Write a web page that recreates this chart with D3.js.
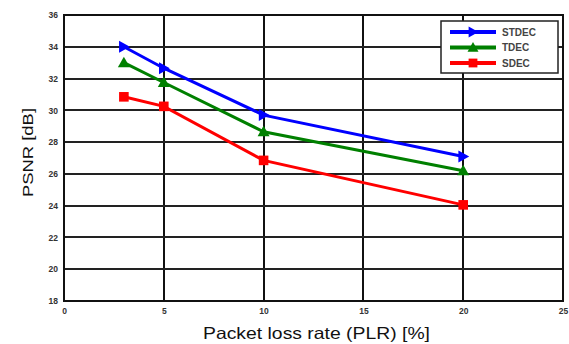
<!DOCTYPE html>
<html><head><meta charset="utf-8">
<script src="https://cdn.jsdelivr.net/npm/d3@7"></script>
<style>body{margin:0;background:#fff}svg{display:block}</style>
</head><body><svg id="c" width="569" height="344"></svg>
<script>
const plr = [3, 5, 10, 20];
const stdec = [34.0, 32.65, 29.7, 27.1];
const tdec = [33.0, 31.75, 28.65, 26.2];
const sdec = [30.85, 30.25, 26.85, 24.05];
const seriesNames = ["STDEC", "TDEC", "SDEC"];
const xTicks = [0, 5, 10, 15, 20, 25];
const yTicks = [18, 20, 22, 24, 26, 28, 30, 32, 34, 36];

const colors = ["#0000ff", "#008000", "#ff0000"];
const shapes = ["right", "up", "square"];
const series = [stdec, tdec, sdec];

const svg = d3.select("#c");
const L = 64, R = 563, T = 15, B = 301;
const x = d3.scaleLinear().domain([0, 25]).range([L, R]);
const y = d3.scaleLinear().domain([18, 36]).range([B, T]);

// grid
svg.append("g").selectAll("line").data(xTicks).join("line")
  .attr("x1", d => Math.round(x(d))).attr("x2", d => Math.round(x(d))).attr("y1", T).attr("y2", B)
  .attr("stroke", "#111").attr("stroke-width", 2);
svg.append("g").selectAll("line").data(yTicks).join("line")
  .attr("y1", d => Math.round(y(d))).attr("y2", d => Math.round(y(d))).attr("x1", L).attr("x2", R)
  .attr("stroke", "#222").attr("stroke-width", 2);

// axes
const xa = svg.append("g").attr("transform", `translate(0,${B})`)
  .call(d3.axisBottom(x).tickValues(xTicks).tickSize(0).tickPadding(7));
const ya = svg.append("g").attr("transform", `translate(${L},0)`)
  .call(d3.axisLeft(y).tickValues(yTicks).tickSize(0).tickPadding(6));
[xa, ya].forEach(a => {
  a.select(".domain").remove();
  a.selectAll("text").attr("font-family", "Arial, Liberation Sans, sans-serif")
    .attr("font-size", 8.5).attr("font-weight", "bold").attr("fill", "#333");
});
svg.append("rect").attr("x", L).attr("y", T).attr("width", R - L).attr("height", B - T)
  .attr("fill", "none").attr("stroke", "#111").attr("stroke-width", 2);

// labels
svg.append("text").attr("x", 203).attr("y", 339)
  .attr("font-family", "Arial, Liberation Sans, sans-serif").attr("font-size", 16.5)
  .attr("textLength", 227).attr("lengthAdjust", "spacingAndGlyphs")
  .attr("fill", "#111").text("Packet loss rate (PLR) [%]");
svg.append("text").attr("transform", "translate(32.5,197) rotate(-90)")
  .attr("font-family", "Arial, Liberation Sans, sans-serif").attr("font-size", 15)
  .attr("textLength", 89).attr("lengthAdjust", "spacingAndGlyphs")
  .attr("fill", "#111").text("PSNR [dB]");

function marker(g, shape, color, cx, cy, s) {
  if (shape === "right") {
    g.append("path").attr("d", `M${cx - s * 0.8},${cy - s}L${cx + s},${cy}L${cx - s * 0.8},${cy + s}Z`).attr("fill", color);
  } else if (shape === "up") {
    g.append("path").attr("d", `M${cx},${cy - s}L${cx + s},${cy + s * 0.75}L${cx - s},${cy + s * 0.75}Z`).attr("fill", color);
  } else {
    g.append("rect").attr("x", cx - s * 0.8).attr("y", cy - s * 0.8).attr("width", s * 1.6).attr("height", s * 1.6).attr("fill", color);
  }
}

const line = d3.line().x(d => x(d[0])).y(d => y(d[1]));
series.forEach((vals, i) => {
  const pts = plr.map((p, j) => [p, vals[j]]);
  const g = svg.append("g");
  g.append("path").attr("d", line(pts)).attr("fill", "none")
    .attr("stroke", colors[i]).attr("stroke-width", 3);
  pts.forEach(p => marker(g, shapes[i], colors[i], x(p[0]), y(p[1]), 6));
});

// legend
const lg = svg.append("g");
lg.append("rect").attr("x", 441).attr("y", 21).attr("width", 117).attr("height", 52)
  .attr("fill", "#fff").attr("stroke", "#222").attr("stroke-width", 1.5);
seriesNames.forEach((n, i) => {
  const yy = 32 + i * 15.5;
  lg.append("line").attr("x1", 450).attr("x2", 496).attr("y1", yy).attr("y2", yy)
    .attr("stroke", colors[i]).attr("stroke-width", 4);
  marker(lg, shapes[i], colors[i], 473, yy, 5.5);
  lg.append("text").attr("x", 502).attr("y", yy + 3.8)
    .attr("font-family", "Arial, Liberation Sans, sans-serif").attr("font-size", 10)
    .attr("font-weight", "bold").attr("fill", "#444").text(n);
});
</script></body></html>
